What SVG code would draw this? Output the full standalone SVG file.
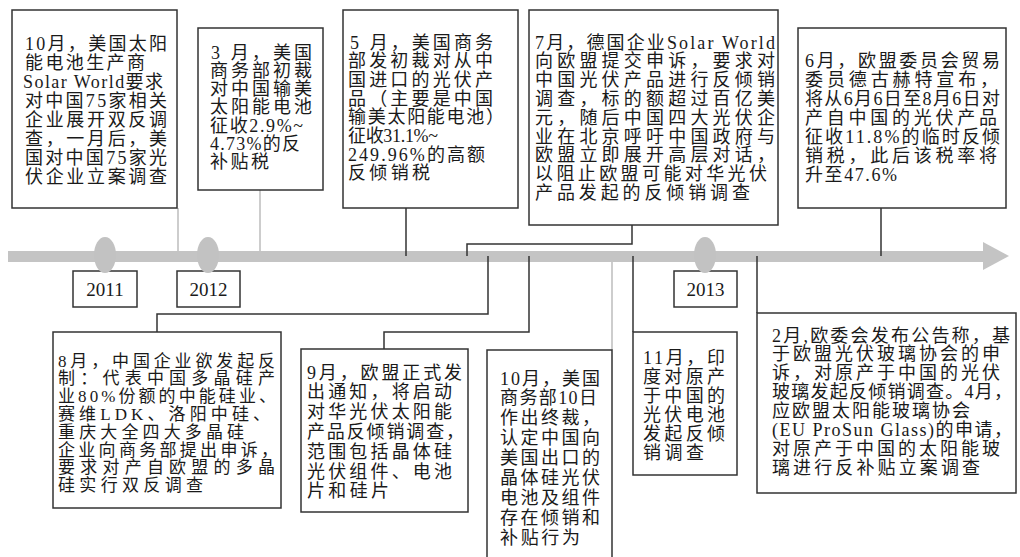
<svg xmlns="http://www.w3.org/2000/svg" width="1020" height="557" viewBox="0 0 1020 557">
<style>
.bx{fill:#fff;stroke:#333;stroke-width:1.5}
.t{font-family:"Liberation Serif","Noto Sans CJK SC",serif;font-size:18px;fill:#1a1a1a}
.s{font-size:17px}
.yr{font-family:"Liberation Serif",serif;font-size:19px;fill:#1a1a1a;text-anchor:middle}
.dk{fill:none;stroke:#333;stroke-width:1.5}
.lt{fill:none;stroke:#bdbdbd;stroke-width:1.5}
.mk{fill:#c2c2c2}
</style>
<rect width="1020" height="557" fill="#fff"/>
<g id="timeline">
<rect x="8" y="251" width="977" height="11" fill="#c4c4c4"/>
<polygon points="983,242 1009,256 983,270" fill="#c4c4c4"/>
</g>
<g id="connectors">
<line class="lt" x1="178" y1="208" x2="178" y2="251"/>
<line class="lt" x1="260" y1="190" x2="260" y2="251"/>
<line class="dk" x1="406" y1="208" x2="406" y2="256"/>
<polyline class="dk" points="632,225 632,244 467,244 467,256"/>
<line class="dk" x1="881" y1="208" x2="881" y2="256"/>
<polyline class="dk" points="488,256 488,314 157,314 157,332"/>
<polyline class="dk" points="529,256 529,332 384,332 384,349"/>
<line class="lt" x1="612" y1="262" x2="612" y2="350"/>
<line class="dk" x1="633" y1="256" x2="633" y2="332"/>
<line class="dk" x1="757" y1="256" x2="757" y2="313"/>
</g>
<g id="y2011"><rect class="bx" x="73" y="271" width="64" height="36"/><text class="yr" x="105" y="296">2011</text><ellipse class="mk" cx="105" cy="255" rx="11" ry="18"/></g>
<g id="y2012"><rect class="bx" x="177" y="271" width="63" height="36"/><text class="yr" x="208.5" y="296">2012</text><ellipse class="mk" cx="208" cy="255" rx="11" ry="18"/></g>
<g id="y2013"><rect class="bx" x="674" y="271" width="63" height="36"/><text class="yr" x="705.5" y="296">2013</text><ellipse class="mk" cx="705" cy="255" rx="11" ry="18"/></g>

<g id="n2011-10">
<rect class="bx" x="12" y="10" width="165" height="198"/>
<text class="t" x="25" y="49.5" textLength="142" lengthAdjust="spacing">10月，美国太阳</text>
<text class="t" x="25" y="68.5" textLength="120" lengthAdjust="spacing">能电池生产商</text>
<text class="t" x="23" y="87.5" textLength="140" lengthAdjust="spacing">Solar World要求</text>
<text class="t" x="25" y="106.5" textLength="142" lengthAdjust="spacing">对中国75家相关</text>
<text class="t" x="25" y="125.5" textLength="142" lengthAdjust="spacing">企业展开双反调</text>
<text class="t" x="25" y="144.5" textLength="142" lengthAdjust="spacing">查，一月后，美</text>
<text class="t" x="25" y="163.5" textLength="142" lengthAdjust="spacing">国对中国75家光</text>
<text class="t" x="25" y="182.5" textLength="142" lengthAdjust="spacing">伏企业立案调查</text>
</g>

<g id="n2012-03">
<rect class="bx" x="198" y="28" width="125" height="162"/>
<text class="t" x="211" y="58.5" textLength="101" lengthAdjust="spacing">3 月，美国</text>
<text class="t" x="210" y="76.8" textLength="102" lengthAdjust="spacing">商务部初裁</text>
<text class="t" x="210" y="95.1" textLength="102" lengthAdjust="spacing">对中国输美</text>
<text class="t" x="210" y="113.4" textLength="102" lengthAdjust="spacing">太阳能电池</text>
<text class="t" x="210" y="131.7" textLength="93" lengthAdjust="spacing">征收2.9%~</text>
<text class="t" x="210" y="150" textLength="90" lengthAdjust="spacing">4.73%的反</text>
<text class="t" x="210" y="168.3" textLength="59" lengthAdjust="spacing">补贴税</text>
</g>

<g id="n2012-05">
<rect class="bx" x="343" y="10" width="175" height="198"/>
<text class="t" x="350" y="48.5" textLength="143" lengthAdjust="spacing">5 月，美国商务</text>
<text class="t" x="348" y="67.2" textLength="145" lengthAdjust="spacing">部发初裁对从中</text>
<text class="t" x="348" y="85.9" textLength="145" lengthAdjust="spacing">国进口的光伏产</text>
<text class="t" x="348" y="104.6" textLength="145" lengthAdjust="spacing">品（主要是中国</text>
<text class="t" x="348" y="123.3" textLength="156" lengthAdjust="spacing">输美太阳能电池）</text>
<text class="t" x="348" y="142" textLength="90" lengthAdjust="spacing">征收31.1%~</text>
<text class="t" x="348" y="160.7" textLength="137" lengthAdjust="spacing">249.96%的高额</text>
<text class="t" x="348" y="179.4" textLength="82" lengthAdjust="spacing">反倾销税</text>
</g>

<g id="n2012-07">
<rect class="bx" x="529" y="10" width="249" height="215"/>
<text class="t" x="535" y="48.5" textLength="240" lengthAdjust="spacing">7月，德国企业Solar World</text>
<text class="t" x="535" y="67.3" textLength="240" lengthAdjust="spacing">向欧盟提交申诉，要求对</text>
<text class="t" x="535" y="86.1" textLength="240" lengthAdjust="spacing">中国光伏产品进行反倾销</text>
<text class="t" x="535" y="104.9" textLength="240" lengthAdjust="spacing">调查，标的额超过百亿美</text>
<text class="t" x="535" y="123.7" textLength="240" lengthAdjust="spacing">元，随后中国四大光伏企</text>
<text class="t" x="535" y="142.5" textLength="240" lengthAdjust="spacing">业在北京呼吁中国政府与</text>
<text class="t" x="535" y="161.3" textLength="240" lengthAdjust="spacing">欧盟立即展开高层对话，</text>
<text class="t" x="535" y="180.1" textLength="232" lengthAdjust="spacing">以阻止欧盟可能对华光伏</text>
<text class="t" x="535" y="198.9" textLength="215" lengthAdjust="spacing">产品发起的反倾销调查</text>
</g>

<g id="n2013-06">
<rect class="bx" x="798" y="28" width="208" height="180"/>
<text class="t" x="805" y="66.5" textLength="195" lengthAdjust="spacing">6月，欧盟委员会贸易</text>
<text class="t" x="805" y="85.5" textLength="193" lengthAdjust="spacing">委员德古赫特宣布，</text>
<text class="t" x="805" y="104.5" textLength="195" lengthAdjust="spacing">将从6月6日至8月6日对</text>
<text class="t" x="805" y="123.5" textLength="192" lengthAdjust="spacing">产自中国的光伏产品</text>
<text class="t" x="805" y="142.5" textLength="195" lengthAdjust="spacing">征收11.8%的临时反倾</text>
<text class="t" x="805" y="161.5" textLength="192" lengthAdjust="spacing">销税，此后该税率将</text>
<text class="t" x="805" y="180.5" textLength="92" lengthAdjust="spacing">升至47.6%</text>
</g>

<g id="n2012-08">
<rect class="bx" x="53" y="332" width="228" height="176"/>
<text class="t s" x="58" y="366.5" textLength="217" lengthAdjust="spacing">8月，中国企业欲发起反</text>
<text class="t s" x="58" y="384.3" textLength="217" lengthAdjust="spacing">制：代表中国多晶硅产</text>
<text class="t s" x="58" y="402.1" textLength="218" lengthAdjust="spacing">业80%份额的中能硅业、</text>
<text class="t s" x="58" y="419.9" textLength="212" lengthAdjust="spacing">赛维LDK、洛阳中硅、</text>
<text class="t s" x="58" y="437.7" textLength="186" lengthAdjust="spacing">重庆大全四大多晶硅</text>
<text class="t s" x="58" y="455.5" textLength="220" lengthAdjust="spacing">企业向商务部提出申诉，</text>
<text class="t s" x="58" y="473.3" textLength="217" lengthAdjust="spacing">要求对产自欧盟的多晶</text>
<text class="t s" x="58" y="491.1" textLength="145" lengthAdjust="spacing">硅实行双反调查</text>
</g>

<g id="n2012-09">
<rect class="bx" x="301" y="349" width="167" height="163"/>
<text class="t" x="307" y="378.5" textLength="155" lengthAdjust="spacing">9月，欧盟正式发</text>
<text class="t" x="307" y="398.3" textLength="145" lengthAdjust="spacing">出通知，将启动</text>
<text class="t" x="307" y="418.1" textLength="145" lengthAdjust="spacing">对华光伏太阳能</text>
<text class="t" x="307" y="437.9" textLength="157" lengthAdjust="spacing">产品反倾销调查，</text>
<text class="t" x="307" y="457.7" textLength="145" lengthAdjust="spacing">范围包括晶体硅</text>
<text class="t" x="307" y="477.5" textLength="145" lengthAdjust="spacing">光伏组件、电池</text>
<text class="t" x="307" y="497.3" textLength="82" lengthAdjust="spacing">片和硅片</text>
</g>

<g id="n2012-10">
<polyline class="dk" points="487,560 487,350 612,350 612,560"/>
<text class="t" x="500" y="384.5" textLength="100" lengthAdjust="spacing">10月，美国</text>
<text class="t" x="500" y="404.4" textLength="97" lengthAdjust="spacing">商务部10日</text>
<text class="t" x="500" y="424.3" textLength="100" lengthAdjust="spacing">作出终裁，</text>
<text class="t" x="500" y="444.2" textLength="100" lengthAdjust="spacing">认定中国向</text>
<text class="t" x="500" y="464.1" textLength="100" lengthAdjust="spacing">美国出口的</text>
<text class="t" x="500" y="484" textLength="100" lengthAdjust="spacing">晶体硅光伏</text>
<text class="t" x="500" y="503.9" textLength="100" lengthAdjust="spacing">电池及组件</text>
<text class="t" x="500" y="523.8" textLength="100" lengthAdjust="spacing">存在倾销和</text>
<text class="t" x="500" y="543.7" textLength="80" lengthAdjust="spacing">补贴行为</text>
</g>

<g id="n2012-11">
<rect class="bx" x="633" y="332" width="104" height="143"/>
<text class="t" x="643" y="363.5" textLength="82" lengthAdjust="spacing">11月，印</text>
<text class="t" x="643" y="382.5" textLength="82" lengthAdjust="spacing">度对原产</text>
<text class="t" x="643" y="401.5" textLength="82" lengthAdjust="spacing">于中国的</text>
<text class="t" x="643" y="420.5" textLength="82" lengthAdjust="spacing">光伏电池</text>
<text class="t" x="643" y="439.5" textLength="82" lengthAdjust="spacing">发起反倾</text>
<text class="t" x="643" y="458.5" textLength="61" lengthAdjust="spacing">销调查</text>
</g>

<g id="n2013-02">
<rect class="bx" x="757" y="313" width="259" height="180"/>
<text class="t" x="772" y="341.5" textLength="238" lengthAdjust="spacing">2月,欧委会发布公告称，基</text>
<text class="t" x="772" y="360.4" textLength="228" lengthAdjust="spacing">于欧盟光伏玻璃协会的申</text>
<text class="t" x="772" y="379.3" textLength="228" lengthAdjust="spacing">诉，对原产于中国的光伏</text>
<text class="t" x="772" y="398.2" textLength="240" lengthAdjust="spacing">玻璃发起反倾销调查。4月，</text>
<text class="t" x="772" y="417.1" textLength="198" lengthAdjust="spacing">应欧盟太阳能玻璃协会</text>
<text class="t" x="772" y="436" textLength="240" lengthAdjust="spacing">(EU ProSun Glass)的申请，</text>
<text class="t" x="772" y="454.9" textLength="228" lengthAdjust="spacing">对原产于中国的太阳能玻</text>
<text class="t" x="772" y="473.8" textLength="208" lengthAdjust="spacing">璃进行反补贴立案调查</text>
</g>
</svg>
